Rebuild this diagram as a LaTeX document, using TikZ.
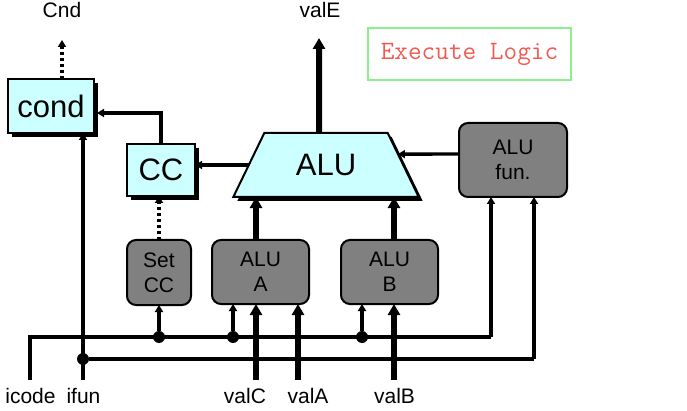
\documentclass[tikz,border=0pt]{standalone}
\usepackage{fontspec}
\setmainfont{Liberation Sans}
\usetikzlibrary{arrows.meta,shapes.geometric,shadows,calc}
\definecolor{cyanlt}{RGB}{204,255,255}
\definecolor{graybox}{RGB}{128,128,128}
\definecolor{exgreen}{RGB}{140,240,140}
\definecolor{exred}{RGB}{240,90,80}
\begin{document}
\begin{tikzpicture}[x=1pt,y=-1pt,
  every node/.style={inner sep=0pt,outer sep=0pt},
  shd/.style={drop shadow={shadow xshift=4pt,shadow yshift=-4pt,fill=black,opacity=1}},
  reg/.style={draw=black,line width=2pt,fill=cyanlt,shd,font=\fontsize{31}{34}\selectfont},
  logic/.style={draw=black,line width=2pt,fill=graybox,rounded corners=9pt,align=center,font=\fontsize{21}{25}\selectfont},
  alushape/.style={trapezium,trapezium angle=55,trapezium stretches=true,minimum width=186pt,minimum height=64pt,draw=black,line width=2pt,fill=cyanlt,shd,font=\fontsize{31}{34}\selectfont},
  lbl/.style={font=\fontsize{21}{24}\selectfont,anchor=base},
  dot/.style={circle,fill=black,minimum size=12pt},
  wire/.style={line width=3.4pt,-{Triangle[length=7pt,width=8pt]}},
  plainwire/.style={line width=3.4pt},
  bus/.style={line width=6pt,-{Triangle[length=11pt,width=12pt]}},
  dotwire/.style={line width=3.4pt,dash pattern=on 3pt off 3pt,-{Triangle[length=7pt,width=8pt]}}
]
\useasboundingbox (0,0) rectangle (687,411);

% nodes
\node[reg,minimum width=86pt,minimum height=54pt] (cond) at (51,106) {cond};
\node[reg,minimum width=68pt,minimum height=52pt] (cc) at (161,170) {CC};
\node[alushape] (alu) at (326,165) {ALU};
\node[logic,minimum width=108pt,minimum height=74pt] (alufun) at (513,160) {ALU\\fun.};
\node[logic,minimum width=64pt,minimum height=65pt] (setcc) at (159,272.5) {Set\\CC};
\node[logic,minimum width=97pt,minimum height=64pt] (aluA) at (260.5,272) {ALU\\A};
\node[logic,minimum width=97pt,minimum height=64pt] (aluB) at (389.5,272) {ALU\\B};
\node[draw=exgreen,line width=1.5pt,minimum width=203pt,minimum height=52pt,text=exred,
      font=\ttfamily\fontsize{26.5}{30}\selectfont] (title) at (469.5,54) {Execute Logic};

% labels
\node[lbl] (cnd) at (62,18) {Cnd};
\node[lbl] (vale) at (320,18) {valE};
\node[lbl] (icode) at (30.5,403) {icode};
\node[lbl] (ifun) at (83.5,403) {ifun};
\node[lbl] (valc) at (245,403) {valC};
\node[lbl] (vala) at (308,403) {valA};
\node[lbl] (valb) at (394.5,403) {valB};

% free ends / bends
\coordinate (icodeS) at (30,380);
\coordinate (ifunS) at (83,380);
\coordinate (valCS) at (256,380);
\coordinate (valAS) at (298,380);
\coordinate (valBS) at (394,380);
\coordinate (xfa) at (491,337);
\coordinate (xfb) at (534,359);
\coordinate (cndtip) at (62,40);
\coordinate (valetip) at (319,38);

% buses
\draw[plainwire] (icodeS) |- (xfa);
\draw[wire] (xfa) -- (xfa |- alufun.south);
\node[dot] (dI) at (83,359) {};
\draw[plainwire] (dI) -- (xfb);
\draw[wire] (xfb) -- (xfb |- alufun.south);
\draw[wire] (ifunS) -- (ifunS |- cond.south);

\node[dot] (d1) at (159,337) {};
\node[dot] (d2) at (233,337) {};
\node[dot] (d3) at (362,337) {};
\draw[wire] (d1) -- (d1 |- setcc.south);
\draw[wire] (d2) -- (d2 |- aluA.south);
\draw[wire] (d3) -- (d3 |- aluB.south);

% data
\draw[bus] (valCS) -- (valCS |- aluA.south);
\draw[bus] (valAS) -- (valAS |- aluA.south);
\draw[bus] (valBS) -- (valBS |- aluB.south);
\draw[bus] (valCS |- aluA.north) -- (valCS |- alu.south);
\draw[bus] (valBS |- aluB.north) -- (valBS |- alu.south);
\draw[bus] ($(alu.north)+(-7,0)$) -- (valetip);

% control
\draw[wire] ($(alufun.west)+(0,-6)$) -- ($(alu.top right corner)!0.33!(alu.bottom right corner)$);
\draw[wire] (alu.west) -- (alu.west -| cc.east);
\draw[wire] (cc.north) |- ($(cond.east)+(3,7)$);
\draw[dotwire] (setcc.north) -- (setcc.north |- cc.south);
\draw[dotwire] ($(cond.north)+(11,0)$) -- (cndtip);
\end{tikzpicture}
\end{document}
